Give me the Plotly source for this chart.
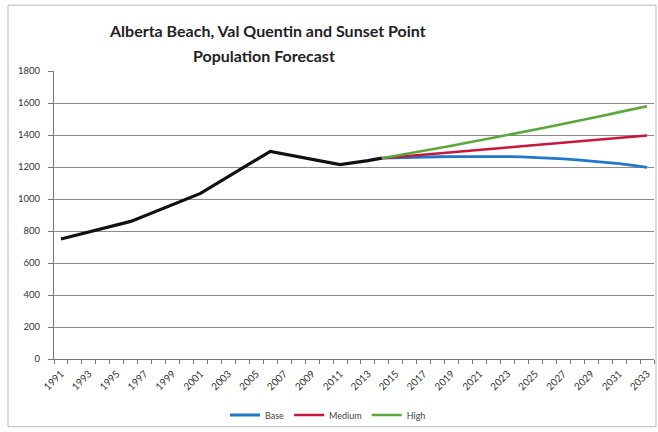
import plotly.graph_objects as go

# Historical population (census years + recent estimates)
hist_years = [1991, 1996, 2001, 2006, 2011, 2012, 2013, 2014]
hist_vals = [750, 860, 1035, 1298, 1215, 1225, 1240, 1255]

# Forecast years
fc_years = list(range(2014, 2034))
base_vals = [1255, 1258, 1261, 1263, 1264, 1265, 1266, 1266, 1266, 1265,
             1263, 1260, 1256, 1251, 1245, 1238, 1230, 1221, 1210, 1197]
medium_vals = [1255, 1262, 1270, 1277, 1285, 1292, 1300, 1307, 1315, 1322,
               1330, 1337, 1345, 1352, 1360, 1367, 1375, 1382, 1390, 1397]
high_vals = [1255, 1270, 1286, 1301, 1317, 1333, 1350, 1366, 1383, 1400,
             1417, 1434, 1452, 1469, 1487, 1506, 1524, 1543, 1561, 1580]

tick_years = list(range(1991, 2034, 2))
tick_labels = [str(y) for y in tick_years]
y_ticks = list(range(0, 1801, 200))
title_lines = ["Alberta Beach, Val Quentin and Sunset Point", "Population Forecast"]

fig = go.Figure()
fig.add_trace(go.Scatter(x=hist_years, y=hist_vals, mode="lines",
                         line=dict(color="#111111", width=3.2),
                         showlegend=False, name="Historical"))
fig.add_trace(go.Scatter(x=fc_years, y=base_vals, mode="lines", name="Base",
                         line=dict(color="#1f78c8", width=2.8)))
fig.add_trace(go.Scatter(x=fc_years, y=medium_vals, mode="lines", name="Medium",
                         line=dict(color="#c8163c", width=2.6)))
fig.add_trace(go.Scatter(x=fc_years, y=high_vals, mode="lines", name="High",
                         line=dict(color="#5aa83a", width=2.6)))

L, R, T, B = 54, 4, 71, 72
W, H = 658, 432
pw = W - L - R
ph = H - T - B

def px_x(x):
    return (x - L) / pw

def px_y(y):
    return (H - B - y) / ph

title_font = dict(family="Lato", size=16, color="#222222", weight="bold")
annotations = [
    dict(text=title_lines[0], xref="paper", yref="paper", x=px_x(267), y=px_y(30),
         xanchor="center", yanchor="middle", showarrow=False, font=title_font),
    dict(text=title_lines[1], xref="paper", yref="paper", x=px_x(264), y=px_y(55),
         xanchor="center", yanchor="middle", showarrow=False, font=title_font),
]

fig.update_layout(
    width=W, height=H,
    margin=dict(l=L, r=R, t=T, b=B),
    paper_bgcolor="white", plot_bgcolor="white",
    font=dict(family="Lato", size=9, color="#444444"),
    annotations=annotations,
    xaxis=dict(range=[1990.5, 2033.5], tickmode="array", tickvals=tick_years,
               ticktext=tick_labels, tickangle=-45, showgrid=False, zeroline=False,
               showline=True, linecolor="#777777", linewidth=1, ticks="",
               ticklabelstandoff=4,
               tickfont=dict(size=10, color="#333333"),
               minor=dict(tick0=1990.5, dtick=1, ticks="outside", ticklen=4,
                          tickcolor="#777777", showgrid=False)),
    yaxis=dict(range=[0, 1800], tickmode="array", tickvals=y_ticks,
               showgrid=True, gridcolor="#8a8a8a", gridwidth=1, zeroline=False,
               showline=True, linecolor="#777777", linewidth=1,
               ticks="outside", ticklen=5, tickcolor="#777777",
               ticklabelstandoff=6,
               tickfont=dict(size=9.5, color="#333333")),
    legend=dict(orientation="h", x=px_x(328), xanchor="center",
                y=px_y(415), yanchor="middle", font=dict(size=9, color="#444444"),
                itemwidth=30, tracegroupgap=0, bgcolor="rgba(0,0,0,0)"),
    shapes=[dict(type="rect", xref="paper", yref="paper",
                 x0=px_x(8), x1=px_x(656), y0=px_y(428), y1=px_y(5),
                 line=dict(color="#bbbbbb", width=1), layer="below")],
)

fig.write_html("out.html", config={"displayModeBar": False},
               post_script="document.body.style.margin='0';")
